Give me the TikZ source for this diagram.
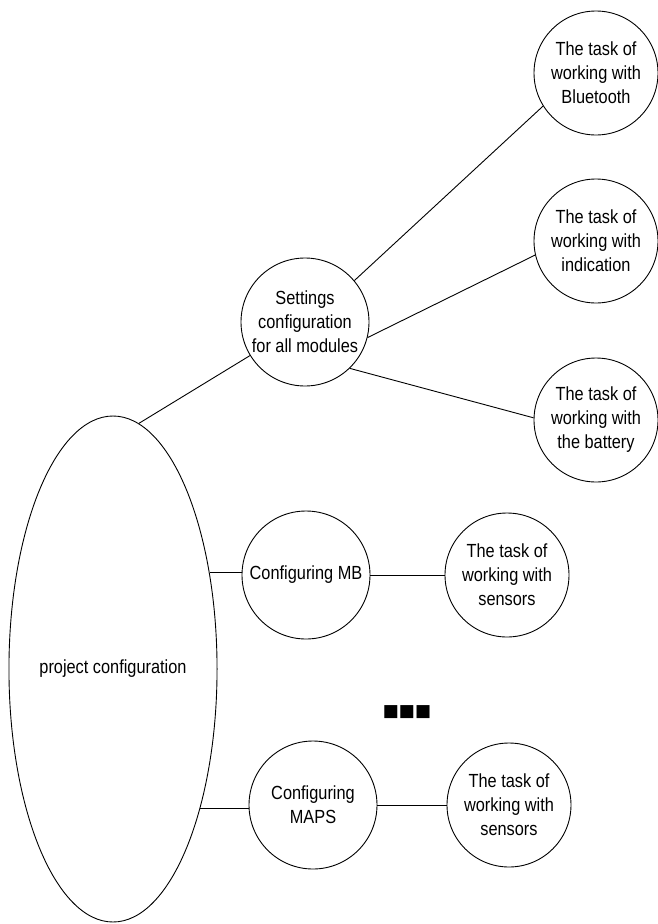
\documentclass[tikz,border=0pt]{standalone}
\usepackage{fontspec}
\setmainfont[FakeStretch=0.86]{Liberation Sans}
\newfontfamily\symfont{DejaVu Sans}
\usetikzlibrary{shapes.geometric}
\begin{document}
\begin{tikzpicture}[x=1pt,y=-1pt, line width=0.9pt,
  every node/.style={font=\fontsize{19}{24}\selectfont, align=center},
  bubble/.style={draw, circle, minimum size=128pt, inner sep=0pt},
  taskbubble/.style={draw, circle, minimum size=124pt, inner sep=0pt},
  oval/.style={draw, ellipse, minimum width=200pt, minimum height=506pt, inner sep=0pt},
  link/.style={draw, line width=0.9pt}]
\useasboundingbox (0,0) rectangle (658,924);
\node[oval] (pc) at (113,669) {project configuration};
\node[bubble] (set) at (305,322) {Settings\\configuration\\for all modules};
\node[taskbubble] (bt) at (596,73) {The task of\\working with\\Bluetooth};
\node[taskbubble] (ind) at (596,241) {The task of\\working with\\indication};
\node[taskbubble] (bat) at (596,420) {The task of\\working with\\the battery};
\node[bubble] (mb) at (306,575) {Configuring MB};
\node[taskbubble] (s1) at (507,575) {The task of\\working with\\sensors};
\node[bubble] (maps) at (313,805) {Configuring\\MAPS};
\node[taskbubble] (s2) at (509,805) {The task of\\working with\\sensors};
\node[font=\symfont\fontsize{17}{17}\selectfont, inner sep=0pt] (dots) at (407,712) {■■■};
\path[link] (pc.84) -- (set);
\path[link] (set.40) -- (bt.212);
\path[link] (set.-14) -- (ind.193);
\path[link] (set.-46) -- (bat.178);
\path[link] (pc.45.6) -- (pc.45.6 -| mb.west);
\path[link] (mb) -- (s1);
\path[link] (pc.-58.3) -- (pc.-58.3 -| maps.west);
\path[link] (maps) -- (s2);
\end{tikzpicture}
\end{document}
